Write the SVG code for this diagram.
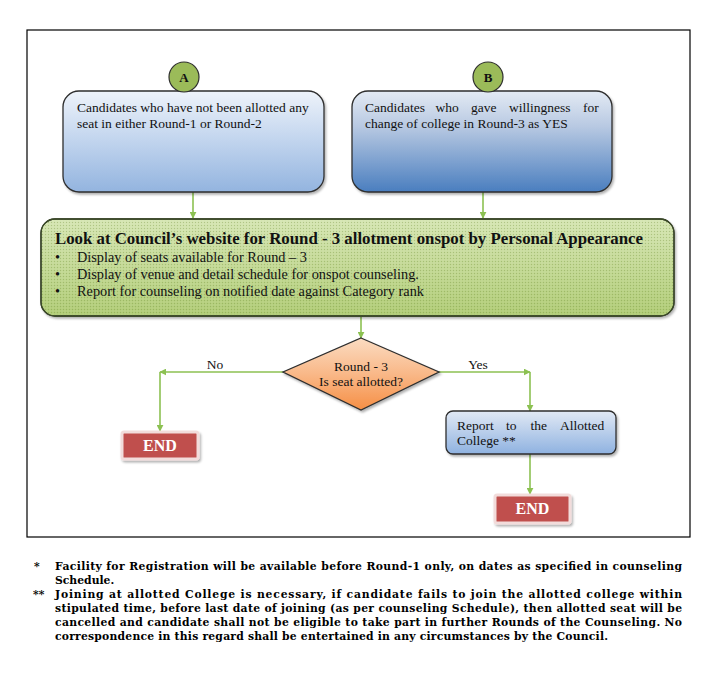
<svg xmlns="http://www.w3.org/2000/svg" width="715" height="699" viewBox="0 0 715 699">
<defs>
<linearGradient id="gA" x1="0" y1="0" x2="0" y2="1">
<stop offset="0" stop-color="#eef3fa"/><stop offset="0.45" stop-color="#c5d7ef"/><stop offset="1" stop-color="#93b4df"/>
</linearGradient>
<linearGradient id="gB" x1="0" y1="0" x2="0" y2="1">
<stop offset="0" stop-color="#e3eaf4"/><stop offset="0.35" stop-color="#b8c9e2"/><stop offset="1" stop-color="#4a7ebf"/>
</linearGradient>
<linearGradient id="gG" x1="0" y1="0" x2="0" y2="1">
<stop offset="0" stop-color="#d5e5b2"/><stop offset="1" stop-color="#afcb74"/>
</linearGradient>
<linearGradient id="gD" x1="0" y1="0" x2="0" y2="1">
<stop offset="0" stop-color="#fbdcc2"/><stop offset="0.5" stop-color="#f9b888"/><stop offset="1" stop-color="#f68f45"/>
</linearGradient>
<linearGradient id="gR" x1="0" y1="0" x2="0" y2="1">
<stop offset="0" stop-color="#e1e9f5"/><stop offset="1" stop-color="#8fb2e0"/>
</linearGradient>
<pattern id="dots" width="3" height="3" patternUnits="userSpaceOnUse">
<rect x="0" y="0" width="1" height="1" fill="#6d8a3a" fill-opacity="0.35"/>
<rect x="1.5" y="1.5" width="1" height="1" fill="#ffffff" fill-opacity="0.25"/>
</pattern>
<filter id="sh" x="-10%" y="-10%" width="130%" height="140%">
<feDropShadow dx="1.5" dy="2" stdDeviation="1.2" flood-color="#000" flood-opacity="0.3"/>
</filter>
<marker id="arr" viewBox="0 0 10 10" refX="9" refY="5" markerWidth="7" markerHeight="7" markerUnits="userSpaceOnUse" orient="auto">
<path d="M0,0 L10,5 L0,10 Z" fill="#8cc152"/>
</marker>
<style>
.t{font-family:"Liberation Serif","Times New Roman",serif;font-size:13.5px;fill:#111}
.tl{font-family:"Liberation Serif","Times New Roman",serif;font-size:14.3px;fill:#111}
.tb{font-family:"Liberation Serif","Times New Roman",serif;font-weight:bold;fill:#111}
.ft{font-family:"DejaVu Serif","Liberation Serif",serif;font-weight:bold;font-size:10.8px;fill:#000}
.box{stroke:#2e2e2e;stroke-width:1.3}
.con{stroke:#8cc152;stroke-width:1.6;fill:none}
.end{fill:#c0504d;stroke:#f2dcdb;stroke-width:3}
.endt{font-family:"Liberation Serif","Times New Roman",serif;font-weight:bold;font-size:16px;fill:#fff}
</style>
</defs>
<rect x="0" y="0" width="715" height="699" fill="#fff"/>
<rect x="27" y="30" width="663" height="507" fill="none" stroke="#000" stroke-width="1.2"/>

<g id="connectors">
<line class="con" x1="193" y1="192" x2="193" y2="218" marker-end="url(#arr)"/>
<line class="con" x1="483" y1="192" x2="483" y2="218" marker-end="url(#arr)"/>
<line class="con" x1="361" y1="317" x2="361" y2="338" marker-end="url(#arr)"/>
<line class="con" x1="283" y1="372" x2="160" y2="372" marker-end="url(#arr)"/>
<line class="con" x1="160" y1="372" x2="160" y2="431" marker-end="url(#arr)"/>
<line class="con" x1="439" y1="372" x2="530" y2="372" marker-end="url(#arr)"/>
<line class="con" x1="530" y1="372" x2="530" y2="411" marker-end="url(#arr)"/>
<line class="con" x1="530" y1="454" x2="530" y2="494" marker-end="url(#arr)"/>
<text class="t" x="215" y="369" text-anchor="middle">No</text>
<text class="t" x="478" y="369" text-anchor="middle">Yes</text>
</g>

<g id="boxA">
<rect class="box" x="63" y="91" width="261" height="101" rx="16" fill="url(#gA)" filter="url(#sh)"/>
<text class="t" x="77" y="112">Candidates who have not been allotted any</text>
<text class="t" x="77" y="128">seat in either Round-1 or Round-2</text>
</g>
<g id="circleA">
<circle cx="184" cy="77" r="15" fill="#9bbb59" stroke="#2e2e2e" stroke-width="1.2"/>
<text class="tb" x="184" y="82" font-size="13" text-anchor="middle">A</text>
</g>

<g id="boxB">
<rect class="box" x="352" y="91" width="260" height="101" rx="16" fill="url(#gB)" filter="url(#sh)"/>
<text class="t" y="112"><tspan x="365">Candidates</tspan><tspan x="435.5">who</tspan><tspan x="471">gave</tspan><tspan x="509">willingness</tspan><tspan x="583">for</tspan></text>
<text class="t" x="365" y="128">change of college in Round-3 as YES</text>
</g>
<g id="circleB">
<circle cx="488" cy="77" r="15" fill="#9bbb59" stroke="#2e2e2e" stroke-width="1.2"/>
<text class="tb" x="488" y="82" font-size="13" text-anchor="middle">B</text>
</g>

<g id="council">
<rect class="box" x="41" y="219" width="633" height="97" rx="14" fill="url(#gG)" filter="url(#sh)"/>
<rect x="41" y="219" width="633" height="97" rx="14" fill="url(#dots)"/>
<rect x="41" y="219" width="633" height="97" rx="14" fill="none" stroke="#3a4a25" stroke-width="1.3"/>
<text class="tb" x="55" y="244" font-size="16.5" textLength="588" lengthAdjust="spacingAndGlyphs">Look at Council’s website for Round - 3 allotment onspot by Personal Appearance</text>
<text class="tl" x="55" y="262">•</text>
<text class="tl" x="77" y="262">Display of seats available for Round – 3</text>
<text class="tl" x="55" y="279">•</text>
<text class="tl" x="77" y="279">Display of venue and detail schedule for onspot counseling.</text>
<text class="tl" x="55" y="296">•</text>
<text class="tl" x="77" y="296">Report for counseling on notified date against Category rank</text>
</g>

<g id="decision">
<polygon class="box" points="361,338 439,372 361,410 283,372" fill="url(#gD)" filter="url(#sh)"/>
<text class="t" x="361" y="371" text-anchor="middle">Round - 3</text>
<text class="t" x="361" y="386" text-anchor="middle">Is seat allotted?</text>
</g>

<g id="end1">
<rect class="end" x="122" y="432" width="76" height="27" rx="2" filter="url(#sh)"/>
<text class="endt" x="160" y="451" text-anchor="middle">END</text>
</g>

<g id="report">
<rect class="box" x="446" y="411" width="170" height="43" rx="7" fill="url(#gR)" filter="url(#sh)"/>
<text class="t" y="430"><tspan x="457">Report</tspan><tspan x="506">to</tspan><tspan x="530.5">the</tspan><tspan x="560">Allotted</tspan></text>
<text class="t" x="457" y="445">College **</text>
</g>

<g id="end2">
<rect class="end" x="495" y="495" width="75" height="28" rx="2" filter="url(#sh)"/>
<text class="endt" x="532.5" y="514" text-anchor="middle">END</text>
</g>

<g id="notes">
<text class="ft" x="34" y="570">*</text>
<text class="ft" x="55" y="570" textLength="627" lengthAdjust="spacing">Facility for Registration will be available before Round-1 only, on dates as specified in counseling</text>
<text class="ft" x="55" y="584">Schedule.</text>
<text class="ft" x="33" y="598">**</text>
<text class="ft" x="55" y="598" textLength="627" lengthAdjust="spacing">Joining at allotted College is necessary, if candidate fails to join the allotted college within</text>
<text class="ft" x="55" y="612" textLength="627" lengthAdjust="spacing">stipulated time, before last date of joining (as per counseling Schedule), then allotted seat will be</text>
<text class="ft" x="55" y="626" textLength="627" lengthAdjust="spacing">cancelled and candidate shall not be eligible to take part in further Rounds of the Counseling. No</text>
<text class="ft" x="55" y="640" textLength="553" lengthAdjust="spacing">correspondence in this regard shall be entertained in any circumstances by the Council.</text>
</g>
</svg>
